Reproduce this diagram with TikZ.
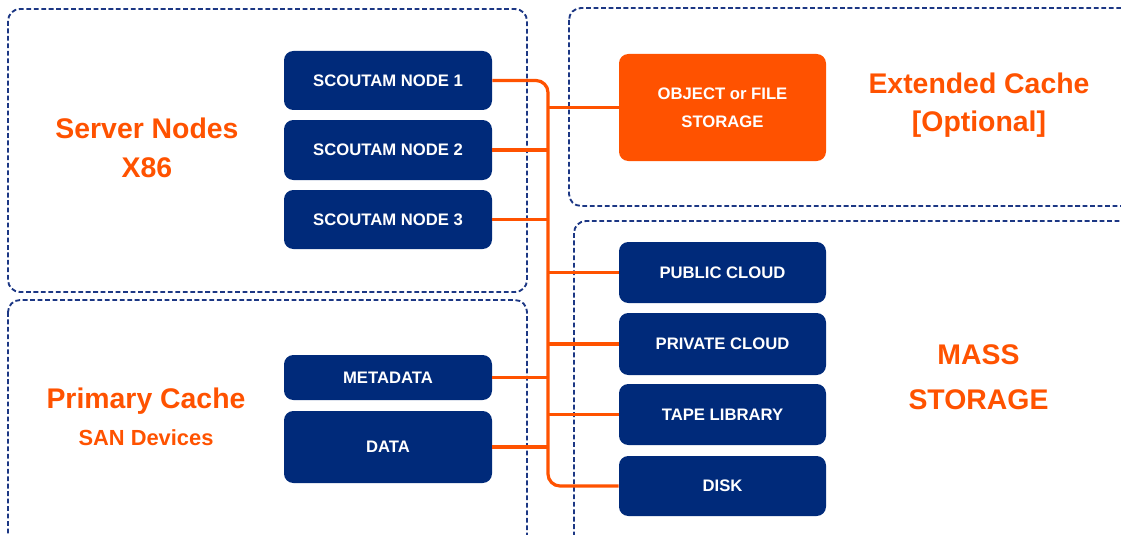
\documentclass[tikz,border=0pt]{standalone}
\usepackage{fontspec}
\setmainfont{Liberation Sans}
\definecolor{navy}{RGB}{0,42,122}
\definecolor{dashnavy}{RGB}{28,55,132}
\definecolor{orng}{RGB}{255,82,0}
\begin{document}
\begin{tikzpicture}[x=0.75pt,y=-0.75pt,
 panel/.style={draw=dashnavy, line width=1.4pt, dash pattern=on 3.6pt off 2pt, rounded corners=9pt},
 nbox/.style={fill=navy, rounded corners=7pt, text=white, font=\bfseries\fontsize{12.5}{21}\selectfont, align=center, inner sep=0pt},
 obox/.style={nbox, fill=orng},
 sz/.style 2 args={minimum width=#1*0.75pt, minimum height=#2*0.75pt},
 bus/.style={draw=orng, line width=2.4pt},
 big/.style={text=orng, font=\bfseries\fontsize{21.3}{26}\selectfont, anchor=base, inner sep=0pt},
 small/.style={text=orng, font=\bfseries\fontsize{16.4}{20}\selectfont, anchor=base, inner sep=0pt}]
\useasboundingbox (0,0) rectangle (1121,535);
\clip (0,0) rectangle (1121,535);
% panels
\draw[panel] (8,9) rectangle (527,292);
\draw[panel] (8,300) rectangle (527,570);
\draw[panel] (569,8) rectangle (1150,206);
\draw[panel] (574,221) rectangle (1150,570);
% boxes
\node[nbox, sz={208}{59}] (n1) at (388,80.5) {SCOUTAM NODE 1};
\node[nbox, sz={208}{60}] (n2) at (388,150) {SCOUTAM NODE 2};
\node[nbox, sz={208}{59}] (n3) at (388,219.5) {SCOUTAM NODE 3};
\node[nbox, sz={208}{45}] (meta) at (388,377.5) {METADATA};
\node[nbox, sz={208}{72}] (data) at (388,447) {DATA};
\node[obox, sz={207}{107}] (obj) at (722.5,107.5) {OBJECT or FILE\\STORAGE};
\node[nbox, sz={207}{61}] (pub) at (722.5,272.5) {PUBLIC CLOUD};
\node[nbox, sz={207}{62}] (priv) at (722.5,344) {PRIVATE CLOUD};
\node[nbox, sz={207}{61}] (tape) at (722.5,414.5) {TAPE LIBRARY};
\node[nbox, sz={207}{60}] (disk) at (722.5,486) {DISK};
% bus
\coordinate (bus) at (548,0);
\draw[bus, rounded corners=9pt] (n1.east) -| (bus |- disk.west) -- (disk.west);
\draw[bus] (n2.east) -- (n2.east -| bus);
\draw[bus] (n3.east) -- (n3.east -| bus);
\draw[bus] (meta.east) -- (meta.east -| bus);
\draw[bus] (data.east) -- (data.east -| bus);
\draw[bus] (obj.west -| bus) -- (obj.west);
\draw[bus] (pub.west -| bus) -- (pub.west);
\draw[bus] (priv.west -| bus) -- (priv.west);
\draw[bus] (tape.west -| bus) -- (tape.west);
% labels
\node[big] (sn1) at (147,138) {Server Nodes};
\node[big] (sn2) at (147,177.5) {X86};
\node[big] (pc1) at (146,408) {Primary Cache};
\node[small] (pc2) at (146,445) {SAN Devices};
\node[big] (ec1) at (979,93.5) {Extended Cache};
\node[big] (ec2) at (979,132) {[Optional]};
\node[big] (ms1) at (978.5,364) {MASS};
\node[big] (ms2) at (978.5,409) {STORAGE};
\end{tikzpicture}
\end{document}
